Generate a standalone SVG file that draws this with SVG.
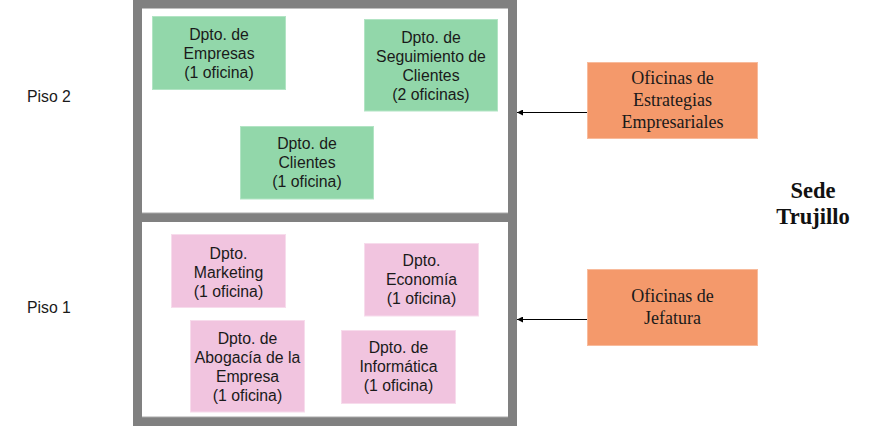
<svg xmlns="http://www.w3.org/2000/svg" width="881" height="447" viewBox="0 0 881 447">
<defs>
<style>
.frame{fill:none;stroke:#808080;stroke-width:9}
.hl{stroke:#a8a8a8;stroke-width:1;fill:none}
.green{fill:#92d7aa;stroke:#b2e4c4;stroke-width:1}
.pink{fill:#f1c4df;stroke:#f7dcec;stroke-width:1}
.orange{fill:#f4996b;stroke:#f8bb9c;stroke-width:1}
.sans{font-family:"Liberation Sans",Arial,sans-serif;font-size:15.8px;fill:#1a1a1a;text-anchor:middle}
.serif{font-family:"Liberation Serif","Times New Roman",serif;font-size:18px;fill:#1a1a1a;text-anchor:middle}
.label{font-family:"Liberation Sans",Arial,sans-serif;font-size:15.8px;fill:#1a1a1a}
.title{font-family:"Liberation Serif","Times New Roman",serif;font-size:22.5px;font-weight:bold;fill:#111;text-anchor:middle}
.conn{stroke:#000;stroke-width:1.2;fill:none}
</style>
<marker id="arr" viewBox="0 0 10 10" refX="10" refY="5" markerWidth="6" markerHeight="6" markerUnits="userSpaceOnUse" orient="auto">
<path d="M0,0 L10,5 L0,10 z" fill="#000"/>
</marker>
</defs>
<rect width="881" height="447" fill="#fff"/>

<g id="building">
<rect class="frame" x="137.5" y="4" width="375" height="213.5"/>
<rect class="frame" x="137.5" y="217.5" width="375" height="204"/>
<line class="hl" x1="142" y1="213" x2="508" y2="213"/>
<line class="hl" x1="142" y1="417" x2="508" y2="417"/>
</g>

<g id="piso2"><text class="label" x="27" y="102">Piso 2</text></g>
<g id="piso1"><text class="label" x="27" y="313">Piso 1</text></g>

<g id="dpto-empresas">
<rect class="green" x="152.5" y="16.5" width="133" height="73"/>
<text class="sans" x="219" y="40">Dpto. de</text>
<text class="sans" x="219" y="59">Empresas</text>
<text class="sans" x="219" y="78">(1 oficina)</text>
</g>

<g id="dpto-seguimiento">
<rect class="green" x="364.5" y="19.5" width="133" height="91.5"/>
<text class="sans" x="431" y="42.5">Dpto. de</text>
<text class="sans" x="431" y="61.5">Seguimiento de</text>
<text class="sans" x="431" y="80.5">Clientes</text>
<text class="sans" x="431" y="99.5">(2 oficinas)</text>
</g>

<g id="dpto-clientes">
<rect class="green" x="240.5" y="126.5" width="133" height="72.5"/>
<text class="sans" x="307" y="149">Dpto. de</text>
<text class="sans" x="307" y="168">Clientes</text>
<text class="sans" x="307" y="187">(1 oficina)</text>
</g>

<g id="dpto-marketing">
<rect class="pink" x="171.5" y="234.5" width="114" height="73"/>
<text class="sans" x="228.5" y="258.5">Dpto.</text>
<text class="sans" x="228.5" y="277.5">Marketing</text>
<text class="sans" x="228.5" y="296.5">(1 oficina)</text>
</g>

<g id="dpto-economia">
<rect class="pink" x="364.5" y="243.5" width="114" height="72.5"/>
<text class="sans" x="421.5" y="266">Dpto.</text>
<text class="sans" x="421.5" y="285">Economía</text>
<text class="sans" x="421.5" y="304">(1 oficina)</text>
</g>

<g id="dpto-abogacia">
<rect class="pink" x="190.5" y="320.5" width="114" height="91.5"/>
<text class="sans" x="247.5" y="344">Dpto. de</text>
<text class="sans" x="247.5" y="363">Abogacía de la</text>
<text class="sans" x="247.5" y="382">Empresa</text>
<text class="sans" x="247.5" y="401">(1 oficina)</text>
</g>

<g id="dpto-informatica">
<rect class="pink" x="341.5" y="330.5" width="114" height="73"/>
<text class="sans" x="398.5" y="353">Dpto. de</text>
<text class="sans" x="398.5" y="372">Informática</text>
<text class="sans" x="398.5" y="391">(1 oficina)</text>
</g>

<g id="oficinas-estrategias">
<rect class="orange" x="587.5" y="62.5" width="170" height="76"/>
<text class="serif" x="672.5" y="83.5">Oficinas de</text>
<text class="serif" x="672.5" y="105.5">Estrategias</text>
<text class="serif" x="672.5" y="127.5">Empresariales</text>
</g>

<g id="oficinas-jefatura">
<rect class="orange" x="587.5" y="269.5" width="170" height="76"/>
<text class="serif" x="672.5" y="301.5">Oficinas de</text>
<text class="serif" x="672.5" y="323.5">Jefatura</text>
</g>

<g id="sede">
<text class="title" x="813" y="197.5">Sede</text>
<text class="title" x="813" y="224">Trujillo</text>
</g>

<g id="connectors">
<line class="conn" x1="587" y1="112.5" x2="517" y2="112.5" marker-end="url(#arr)"/>
<line class="conn" x1="587" y1="319.5" x2="517" y2="319.5" marker-end="url(#arr)"/>
</g>
</svg>
